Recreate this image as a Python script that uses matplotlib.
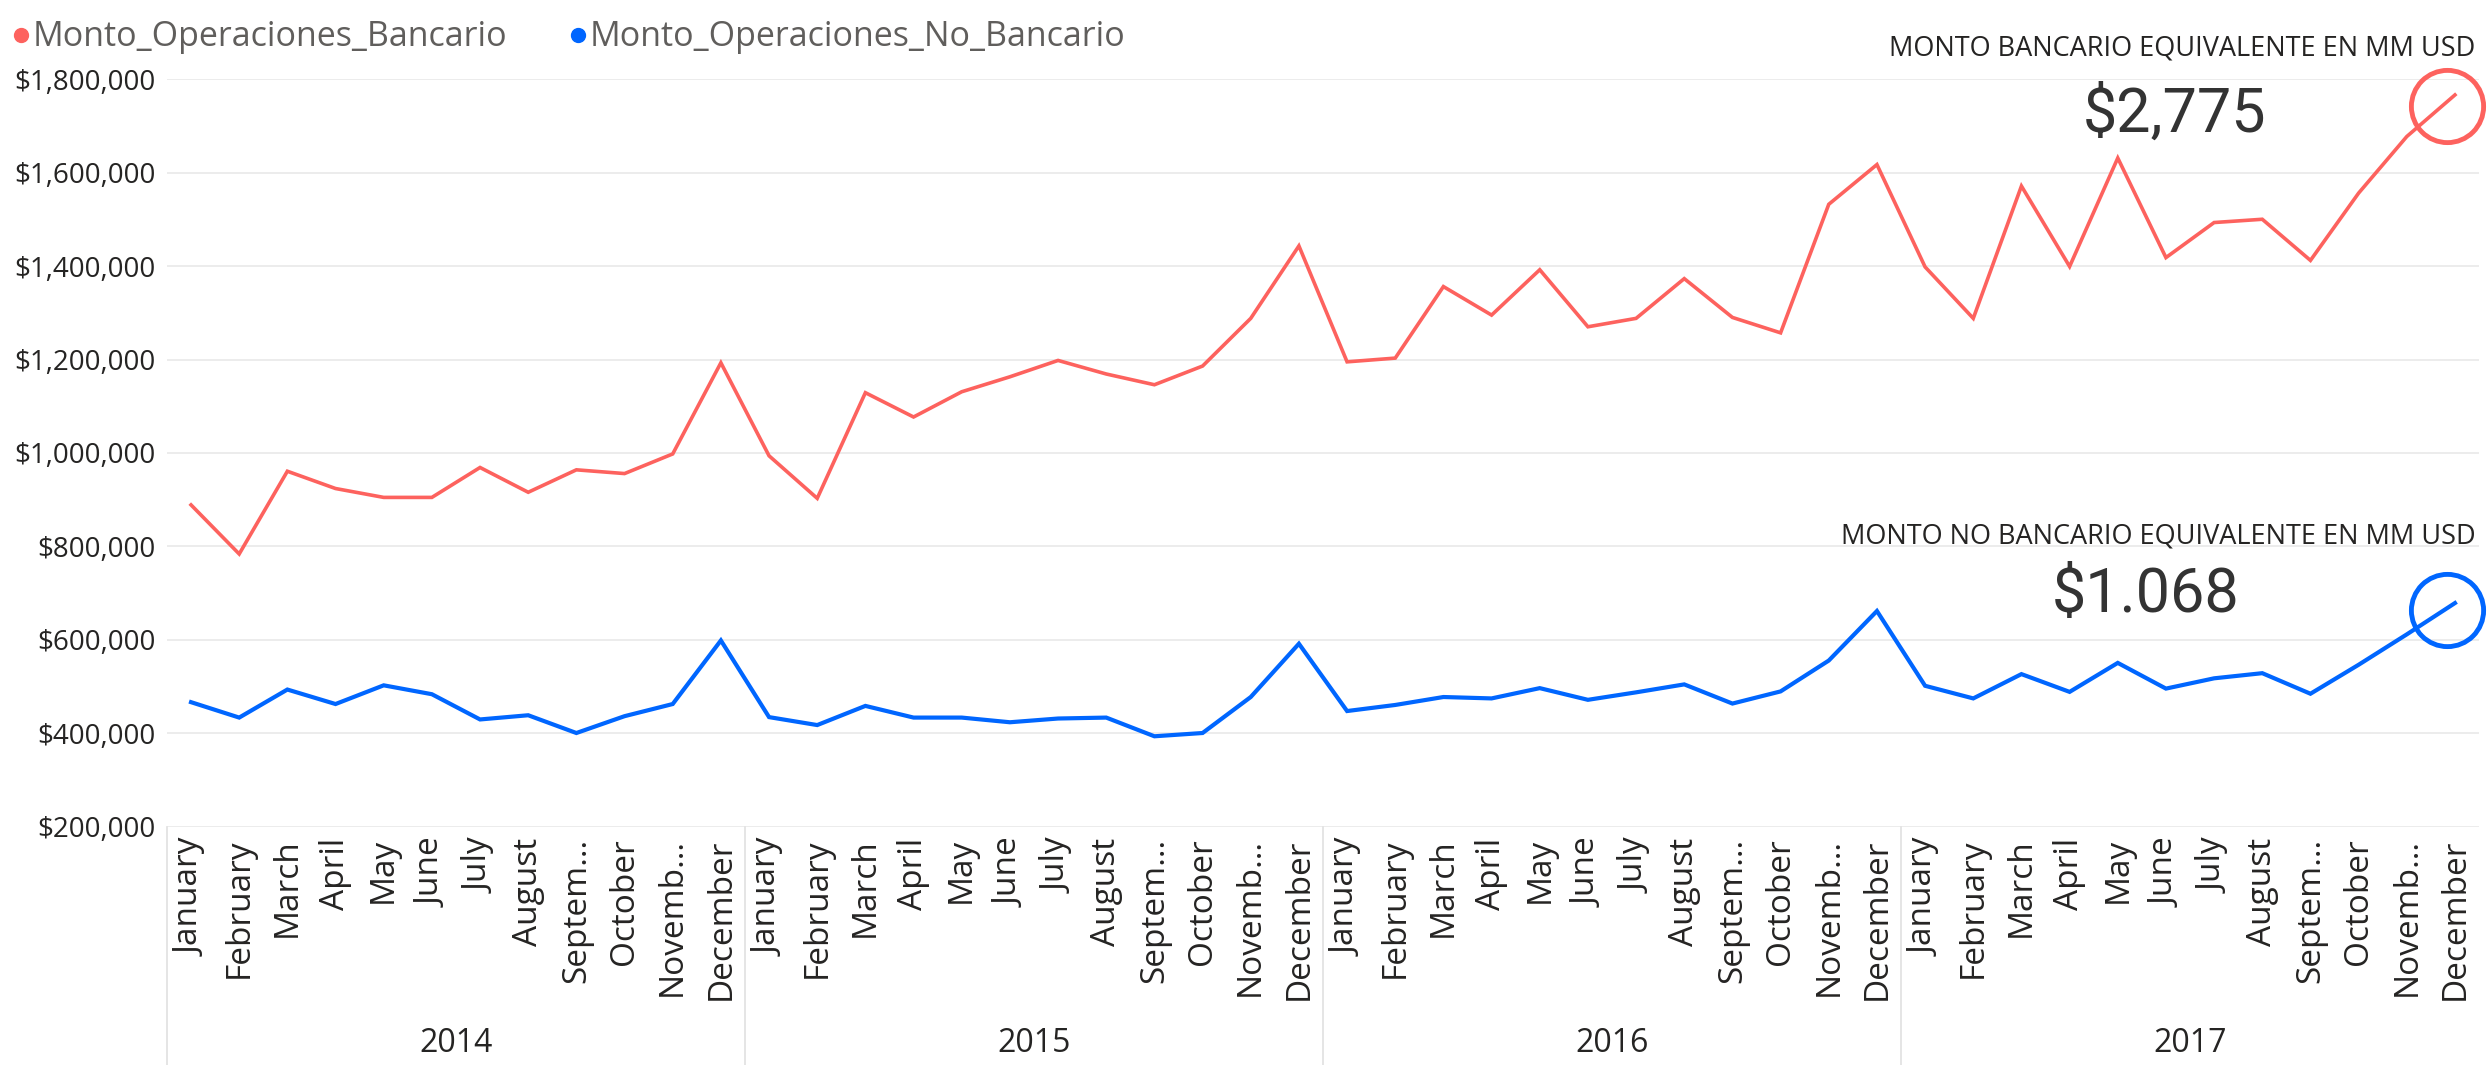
import matplotlib
matplotlib.use("Agg")
import matplotlib.pyplot as plt
import matplotlib.transforms as mtransforms
from matplotlib.lines import Line2D
from matplotlib.ticker import FuncFormatter

plt.rcParams['font.family'] = ['Open Sans', 'DejaVu Sans']

# data
years = ['2014', '2015', '2016', '2017']
months = ['January', 'February', 'March', 'April', 'May', 'June', 'July',
          'August', 'Septem…', 'October', 'Novemb…', 'December']

bancario = [889000, 784000, 961000, 924000, 905000, 905000, 969000, 916000, 964000, 956000, 998000, 1193000,
            994000, 903000, 1129000, 1077000, 1131000, 1163000, 1198000, 1169000, 1146000, 1186000, 1288000, 1443000,
            1195000, 1203000, 1356000, 1295000, 1392000, 1270000, 1288000, 1373000, 1290000, 1257000, 1532000, 1617000,
            1398000, 1288000, 1571000, 1399000, 1631000, 1418000, 1493000, 1500000, 1412000, 1556000, 1677000, 1766000]

no_bancario = [467000, 434000, 494000, 463000, 503000, 484000, 430000, 439000, 401000, 437000, 463000, 599000,
               435000, 418000, 459000, 434000, 434000, 424000, 432000, 434000, 394000, 401000, 478000, 592000,
               448000, 461000, 478000, 475000, 497000, 472000, 488000, 505000, 464000, 490000, 556000, 662000,
               502000, 475000, 527000, 489000, 551000, 496000, 518000, 529000, 485000, 547000, 612000, 679000]

label_banc = 'Monto_Operaciones_Bancario'
label_nobanc = 'Monto_Operaciones_No_Bancario'
red = '#FD625E'
blue = '#0066FF'

x = list(range(len(bancario)))
month_labels = months * len(years)

fig = plt.figure(figsize=(24.88, 10.65), dpi=100)
ax = fig.add_axes([0.0671, 0.2235, 0.9293, 0.7023])

ax.plot(x, bancario, color=red, lw=2.6, solid_joinstyle='miter')
ax.plot(x, no_bancario, color=blue, lw=3.0, solid_joinstyle='miter')

# hand-drawn style circles around the last point
shift_r = mtransforms.offset_copy(ax.transData, fig=fig, x=-6, y=-8, units='points')
shift_b = mtransforms.offset_copy(ax.transData, fig=fig, x=-6, y=-5, units='points')
ax.plot(x[-1], bancario[-1], marker='o', ms=52, mfc='none', mec=red, mew=3.5,
        transform=shift_r, clip_on=False)
ax.plot(x[-1], no_bancario[-1], marker='o', ms=52, mfc='none', mec=blue, mew=3.5,
        transform=shift_b, clip_on=False)

ax.set_xlim(-0.5, len(x) - 0.5)
ax.set_ylim(200000, 1800000)
ax.set_yticks(range(200000, 1800001, 200000))
ax.yaxis.set_major_formatter(FuncFormatter(lambda v, p: '${:,.0f}'.format(v)))
ax.grid(axis='y', color='#EAEAEA', lw=1.3)
ax.set_axisbelow(True)
for s in ax.spines.values():
    s.set_visible(False)

ax.set_xticks(x)
ax.set_xticklabels(month_labels, rotation=90, va='top', ha='center', fontsize=24, color='#252423')
ax.tick_params(axis='x', length=0, pad=8)
ax.tick_params(axis='y', length=0, pad=8, labelsize=20, labelcolor='#252423')

# year groups below the month labels
trans = mtransforms.blended_transform_factory(ax.transData, ax.transAxes)
for i, yr in enumerate(years):
    start = i * 12 - 0.5
    ax.plot([start, start], [0, -0.33], color='#E3E3E3', lw=1.3, transform=trans, clip_on=False)
    ax.text(start + 6, -0.289, yr, transform=trans, ha='center', va='center',
            fontsize=23, color='#252423')

# legend
handles = [Line2D([], [], ls='', marker='o', ms=10, color=red),
           Line2D([], [], ls='', marker='o', ms=10, color=blue)]
fig.legend(handles, [label_banc, label_nobanc], loc='upper left', bbox_to_anchor=(-0.003, 1.0),
           ncol=2, frameon=False, fontsize=24.5, handlelength=0.45, handletextpad=0.12,
           columnspacing=1.85, borderaxespad=0.2, labelcolor='#605E5C')

# KPI annotations
fig.text(0.995, 0.954, 'MONTO BANCARIO EQUIVALENTE EN MM USD', ha='right', va='center',
         fontsize=19.5, color='#252423')
fig.text(0.874, 0.893, '$2,775', ha='center', va='center', fontsize=44,
         family=['Roboto', 'DejaVu Sans'], color='#333333')
fig.text(0.995, 0.4967, 'MONTO NO BANCARIO EQUIVALENTE EN MM USD', ha='right', va='center',
         fontsize=19.5, color='#252423')
fig.text(0.8625, 0.4413, '$1.068', ha='center', va='center', fontsize=44,
         family=['Roboto', 'DejaVu Sans'], color='#333333')

fig.savefig('out.png', dpi=100)
